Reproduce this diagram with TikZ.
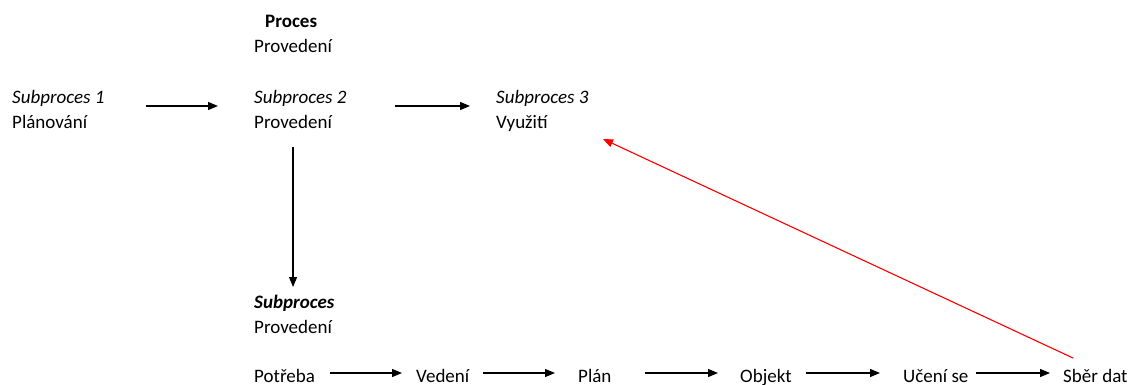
\documentclass[tikz,border=0pt]{standalone}
\usepackage{fontspec}
\setmainfont{Carlito}
\usetikzlibrary{arrows.meta}
\begin{document}
\begin{tikzpicture}[x=1pt,y=-1pt,
  txt/.style={anchor=base west, inner sep=0pt, font=\fontsize{19}{24}\selectfont},
  it/.style={txt, font=\fontsize{19}{24}\selectfont\itshape},
  arr/.style={line width=1.2pt, -{Triangle[length=10pt,width=8pt]}},
  redarr/.style={arr, draw=red, fill=red, line width=1.1pt}]
\useasboundingbox (0,0) rectangle (1133,385);
% top
\node[txt, font=\fontsize{19}{24}\selectfont\bfseries] (proc) at (265,28) {Proces};
\node[txt] (p0) at (254,53) {Provedení};
% row 1
\node[it] (s1t) at (12,104) {Subproces 1};
\node[txt] (s1) at (12,129) {Plánování};
\node[it] (s2t) at (254,104) {Subproces 2};
\node[txt] (s2) at (254,129) {Provedení};
\node[it] (s3t) at (496,104) {Subproces 3};
\node[txt] (s3) at (496,129) {Využití};
% sub
\node[txt, font=\fontsize{19}{24}\selectfont\bfseries\itshape] (sb) at (254,308) {Subproces};
\node[txt] (sbp) at (254,333) {Provedení};
% bottom row
\node[txt] (b1) at (254,382) {Potřeba};
\node[txt] (b2) at (416,382) {Vedení};
\node[txt] (b3) at (578,382) {Plán};
\node[txt] (b4) at (740,382) {Objekt};
\node[txt] (b5) at (903,382) {Učení se};
\node[txt] (b6) at (1063,382) {Sběr dat};
% arrows top
\draw[arr] ([xshift=41pt,yshift=-2pt]s1t.base east) -- ([xshift=-36pt,yshift=-2pt]s2t.base west);
\draw[arr] ([xshift=48pt,yshift=-2pt]s2t.base east) -- ([xshift=-26pt,yshift=-2pt]s3t.base west);
\draw[arr] ([yshift=-18pt]s2.base) -- ([yshift=21pt]s2.base |- sb.base);
% arrows bottom
\draw[arr] ([xshift=15pt,yshift=9pt]b1.base east) -- ([xshift=-14pt,yshift=9pt]b2.base west);
\draw[arr] ([xshift=14pt,yshift=9pt]b2.base east) -- ([xshift=-23pt,yshift=9pt]b3.base west);
\draw[arr] ([xshift=33pt,yshift=9pt]b3.base east) -- ([xshift=-22pt,yshift=9pt]b4.base west);
\draw[arr] ([xshift=14pt,yshift=9pt]b4.base east) -- ([xshift=-23pt,yshift=9pt]b5.base west);
\draw[arr] ([xshift=7pt,yshift=9pt]b5.base east) -- ([xshift=-13pt,yshift=9pt]b6.base west);
% red arrow
\draw[redarr] ([xshift=10pt,yshift=24pt]b6.base west) -- ([xshift=107pt,yshift=-10pt]s3.base west);
\end{tikzpicture}
\end{document}
